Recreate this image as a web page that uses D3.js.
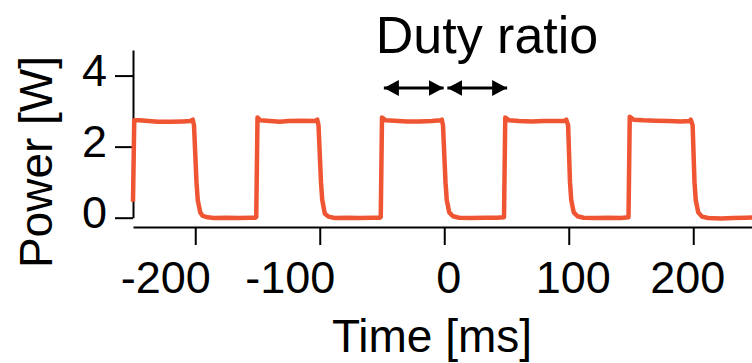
<!DOCTYPE html>
<html>
<head>
<meta charset="utf-8">
<script src="https://cdn.jsdelivr.net/npm/d3@7.9.0/dist/d3.min.js"></script>
<style>
  body { margin: 0; background: #fff; }
  svg { display: block; font-family: "Liberation Sans", Arial, Helvetica, sans-serif; }
</style>
</head>
<body>
<svg id="chart" width="752" height="363"></svg>
<script>
// measured trace, time in ms
const timeMs = [
  -250, -249, -245, -240, -230, -220, -210, -204, -202, -201, -199, -198, -196, -194, -190, -185, -175, -165, -155, -152, -151,
  -150, -148, -140, -132, -125, -115, -104, -102, -101, -99, -98, -96, -93, -88, -78, -68, -58, -52, -51,
  -50, -47, -40, -30, -20, -10, -3, -2, -1, 1, 2, 4, 7, 12, 22, 32, 42, 48,
  49, 52, 60, 70, 80, 90, 97, 98, 99.5, 101, 102, 104, 107, 112, 122, 132, 142, 148,
  149, 152, 160, 170, 180, 190, 197, 198, 199.5, 201, 202, 204, 207, 212, 222, 232, 242, 250
];
// power in W
const powerW = [
  0.45, 2.74, 2.74, 2.73, 2.70, 2.70, 2.71, 2.72, 2.76, 2.6, 1.0, 0.5, 0.15, 0.05, 0.01, -0.01, 0.0, -0.01, 0.0, 0.0, 0.02,
  2.82, 2.74, 2.72, 2.70, 2.72, 2.73, 2.72, 2.76, 2.6, 1.0, 0.5, 0.12, 0.03, -0.01, 0.0, -0.01, 0.0, 0.0, 0.02,
  2.82, 2.74, 2.73, 2.71, 2.71, 2.72, 2.74, 2.76, 2.6, 1.0, 0.5, 0.15, 0.04, 0.0, -0.01, 0.0, 0.0, 0.01,
  2.82, 2.74, 2.72, 2.71, 2.72, 2.72, 2.73, 2.76, 2.6, 1.0, 0.5, 0.15, 0.04, 0.0, -0.01, 0.0, -0.01, 0.01,
  2.84, 2.76, 2.74, 2.73, 2.72, 2.71, 2.72, 2.76, 2.6, 1.0, 0.5, 0.15, 0.03, -0.01, -0.02, -0.01, 0.0, 0.01
];
const xTicks = [-200, -100, 0, 100, 200];
const yTicks = [0, 2, 4];
// duty ratio arrows (ms) and their height (W)
const arrowFrom = [-48.5, 2.5];
const arrowTo = [-0.5, 50.5];
const arrowLevel = 3.65;

const svg = d3.select('#chart');

const x = d3.scaleLinear().domain([-250, 250]).range([133, 755.5]);
const y = d3.scaleLinear().domain([0, 4.72]).range([217.7, 50]);

//y axis
const yAxis = svg.append('g')
  .attr('transform', 'translate(133,0)')
  .call(d3.axisLeft(y).tickValues(yTicks).tickSize(18).tickSizeOuter(0).tickPadding(8)
    .tickFormat(d => String(d)));
yAxis.selectAll('text').attr('font-size', 45).attr('dy', '0.22em');

//x axis
const xAxis = svg.append('g')
  .attr('transform', 'translate(0,227)')
  .call(d3.axisBottom(x).tickValues(xTicks).tickSize(18).tickSizeOuter(0).tickFormat(d => String(d)));
// labels in the original sit a little off their ticks (minus signs hang left)
xAxis.selectAll('text')
  .attr('font-size', 45).attr('y', 66).attr('dy', 0)
  .attr('dx', d => d < 0 ? -30 : (d === 200 ? -6 : 4));

svg.selectAll('.domain, .tick line').attr('stroke', '#000').attr('stroke-width', 2);
svg.selectAll('.tick text').attr('fill', '#000').attr('font-family', '"Liberation Sans", Arial, sans-serif');

//trace
const line = d3.line()
  .x(i => x(timeMs[i]))
  .y(i => y(powerW[i]));
svg.append('path')
  .attr('d', line(d3.range(timeMs.length)))
  .attr('fill', 'none')
  .attr('stroke', '#F05533')
  .attr('stroke-width', 4.5)
  .attr('stroke-linejoin', 'round');

//arrow heads
const defs = svg.append('defs');
defs.append('marker')
  .attr('id', 'head')
  .attr('markerUnits', 'userSpaceOnUse')
  .attr('viewBox', '0 0 15 16')
  .attr('refX', 15).attr('refY', 8)
  .attr('markerWidth', 15).attr('markerHeight', 16)
  .attr('orient', 'auto-start-reverse')
  .append('path')
  .attr('d', 'M0,0 L15,8 L0,16 Z')
  .attr('fill', '#000');

arrowFrom.forEach((a, i) => {
  svg.append('line')
    .attr('x1', x(a)).attr('x2', x(arrowTo[i]))
    .attr('y1', y(arrowLevel)).attr('y2', y(arrowLevel))
    .attr('stroke', '#000')
    .attr('stroke-width', 3)
    .attr('marker-start', 'url(#head)')
    .attr('marker-end', 'url(#head)');
});

//labels
svg.append('text')
  .attr('x', 487).attr('y', 53)
  .attr('text-anchor', 'middle')
  .attr('font-size', 52)
  .text('Duty ratio');

svg.append('text')
  .attr('x', 432).attr('y', 352)
  .attr('text-anchor', 'middle')
  .attr('font-size', 46)
  .text('Time [ms]');

svg.append('text')
  .attr('transform', 'translate(52,162) rotate(-90)')
  .attr('text-anchor', 'middle')
  .attr('font-size', 46)
  .text('Power [W]');
</script>
</body>
</html>
